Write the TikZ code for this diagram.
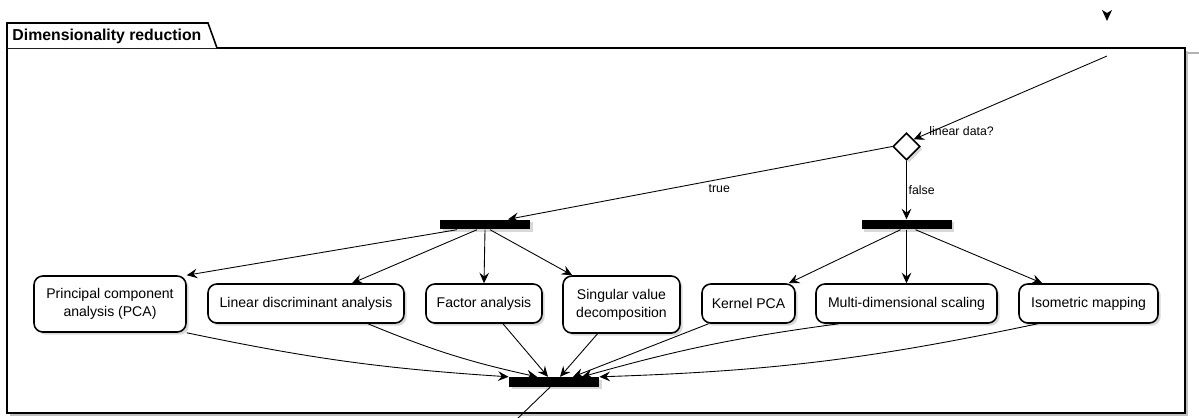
\documentclass[tikz,border=0pt]{standalone}
\usepackage{fontspec}
\setmainfont{Liberation Sans}
\usetikzlibrary{arrows.meta,shapes.geometric,shadows}

\begin{document}
\begin{tikzpicture}[x=0.02cm, y=0.02cm, line width=0.5pt, font=\fontsize{8}{10.2}\selectfont,
  act/.style={draw, line width=0.9pt, rounded corners=5pt, fill=white, align=center, inner sep=0pt,
    minimum height=0.78cm, drop shadow={shadow xshift=1.5pt, shadow yshift=-1.5pt, opacity=0.3}},
  bar/.style={fill=black, minimum width=1.8cm, minimum height=0.19cm, inner sep=0pt,
    drop shadow={shadow xshift=1.5pt, shadow yshift=-1.5pt, opacity=0.3}},
  lbl/.style={font=\fontsize{7}{8}\selectfont, inner sep=1pt},
  arr/.style={-{Stealth[length=6pt, width=5.5pt, inset=2.2pt]}}]
  \useasboundingbox (0,0) rectangle (1199,-417);
  % package frame
  \fill[black!25] (10,-51) rectangle (1188,-416);
  \draw[fill=white, line width=0.9pt] (7,-48) rectangle (1185,-413);
  \draw[black!30, line width=0.8pt] (1188,-53) -- (1199,-53);
  \draw[fill=white, line width=0.9pt] (7,-48) -- (7,-23) -- (208,-23) -- (217,-48);
  \node[font=\bfseries\fontsize{9}{11}\selectfont, anchor=west, inner sep=0pt] (title) at (12,-36) {Dimensionality reduction};
  % incoming flow
  \fill (1102,-10) -- (1107,-13) -- (1112,-10) -- (1107,-21) -- cycle;
  \coordinate (entry) at (1107,-56);
  % decision
  \node[diamond, draw, fill=white, aspect=1, minimum size=0.54cm, inner sep=0pt, line width=0.9pt,
    drop shadow={shadow xshift=1.5pt, shadow yshift=-1.5pt, opacity=0.3}] (dec) at (906.5,-146.5) {};
  \node[lbl, anchor=west, inner sep=0pt] (question) at (929,-131) {linear data?};
  \draw[arr] (entry) -- (dec.north east);
  % forks and join
  \node[bar] (fork1) at (485,-224.5) {};
  \node[bar] (fork2) at (906.5,-224.5) {};
  \node[bar] (join) at (554,-382) {};
  \draw[arr] (dec.west) -- ([xshift=0.46cm]fork1.north) node[lbl, pos=0.45, below=2pt] {true};
  \draw[arr] (dec.south) -- (fork2.north) node[lbl, midway, right] {false};
  % methods
  \node[act, minimum width=3.04cm, minimum height=1.12cm] (pca) at (110,-304) {Principal component\\analysis (PCA)};
  \node[act, minimum width=3.92cm] (lda) at (306,-303.5) {Linear discriminant analysis};
  \node[act, minimum width=2.32cm] (fa) at (484,-303.5) {Factor analysis};
  \node[act, minimum width=2.34cm, minimum height=1.14cm] (svd) at (621.5,-304.5) {Singular value\\decomposition};
  \node[act, minimum width=1.86cm] (kpca) at (748.5,-303.5) {Kernel PCA};
  \node[act, minimum width=3.62cm] (mds) at (906.5,-303.5) {Multi-dimensional scaling};
  \node[act, minimum width=2.78cm] (iso) at (1088.5,-303.5) {Isometric mapping};
  % linear branch
  \draw[arr] ([xshift=-0.56cm]fork1.south) -- (pca.north east);
  \draw[arr] ([xshift=-0.16cm]fork1.south) -- ([xshift=0.92cm]lda.north);
  \draw[arr] (fork1.south) -- (fa.north);
  \draw[arr] ([xshift=0.1cm]fork1.south) -- ([xshift=0.2cm]svd.north west);
  % non-linear branch
  \draw[arr] ([xshift=-0.12cm]fork2.south) -- ([xshift=-0.14cm]kpca.north east);
  \draw[arr] (fork2.south) -- (mds.north);
  \draw[arr] ([xshift=0.18cm]fork2.south) -- ([xshift=0.48cm]iso.north west);
  % merge
  \draw[arr] (pca.south east) to[bend right=4] (join.north west);
  \draw[arr] ([xshift=1.24cm]lda.south) to[bend right=5] ([xshift=-0.34cm]join.north);
  \draw[arr] ([xshift=0.38cm]fa.south) -- ([xshift=-0.12cm]join.north);
  \draw[arr] ([xshift=-0.48cm]svd.south) -- ([xshift=0.12cm]join.north);
  \draw[arr] ([xshift=-0.8cm]kpca.south) -- ([xshift=0.38cm]join.north);
  \draw[arr] ([xshift=-1.36cm]mds.south) to[bend right=4] ([xshift=0.56cm]join.north);
  \draw[arr] ([xshift=-1.02cm]iso.south) to[bend left=5] (join.north east);
  \coordinate (exit) at (516,-420);
  \draw ([xshift=-0.08cm]join.south) -- (exit);
\end{tikzpicture}
\end{document}
